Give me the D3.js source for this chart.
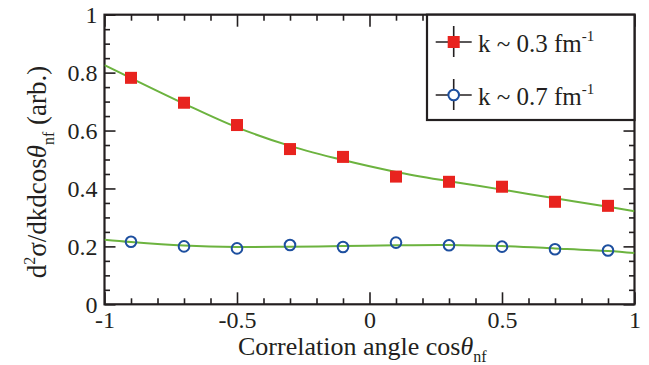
<!DOCTYPE html>
<html>
<head>
<meta charset="utf-8">
<script src="https://cdn.jsdelivr.net/npm/d3@7"></script>
<style>
  body { margin: 0; background: #fff; }
  svg { display: block; }
</style>
</head>
<body>
<svg id="chart" width="649" height="365"></svg>
<script>
// data
const angles = [-0.9, -0.7, -0.5, -0.3, -0.1, 0.1, 0.3, 0.5, 0.7, 0.9];
const k03 = [0.782, 0.696, 0.619, 0.536, 0.509, 0.441, 0.423, 0.406, 0.354, 0.340];
const k07 = [0.216, 0.200, 0.193, 0.205, 0.198, 0.213, 0.204, 0.199, 0.190, 0.186];

// fit curves
const fitAngles = [-1, -0.9, -0.7, -0.5, -0.3, -0.1, 0.1, 0.3, 0.5, 0.7, 0.9, 1];
const fit03 = [0.826, 0.781, 0.693, 0.611, 0.547, 0.498, 0.457, 0.425, 0.396, 0.366, 0.337, 0.321];
const fit07 = [0.223, 0.215, 0.203, 0.198, 0.199, 0.201, 0.204, 0.205, 0.201, 0.193, 0.184, 0.177];

const xTicks = [-1, -0.5, 0, 0.5, 1];
const xTickLabels = ["-1", "-0.5", "0", "0.5", "1"];
const yTicks = [0, 0.2, 0.4, 0.6, 0.8, 1];
const yTickLabels = ["0", "0.2", "0.4", "0.6", "0.8", "1"];
const xMinor = [-0.9, -0.8, -0.7, -0.6, -0.4, -0.3, -0.2, -0.1, 0.1, 0.2, 0.3, 0.4, 0.6, 0.7, 0.8, 0.9];
const yMinor = [0.05, 0.1, 0.15, 0.25, 0.3, 0.35, 0.45, 0.5, 0.55, 0.65, 0.7, 0.75, 0.85, 0.9, 0.95];

const legendLabels = ["k ~ 0.3 fm", "k ~ 0.7 fm"];

const ink = "#231f20",
  red = "#e8231e",
  blue = "#1d4f9f",
  green = "#6cb33f";
const serif = "'Liberation Serif', 'Times New Roman', Times, 'Nimbus Roman', 'Noto Serif', 'DejaVu Serif', FreeSerif, serif";

const svg = d3.select("#chart");

const x = d3.scaleLinear().domain([-1, 1]).range([104.5, 634.5]);
const y = d3.scaleLinear().domain([0, 1]).range([304.3, 14.7]);

// clip for curves
svg.append("clipPath").attr("id", "plot")
  .append("rect")
  .attr("x", x(-1)).attr("y", y(1))
  .attr("width", x(1) - x(-1)).attr("height", y(0) - y(1));

// axes with inward ticks on all four sides
function styleAxis(g) {
  g.attr("font-family", serif).attr("font-size", 24);
  g.select(".domain").remove();
  g.selectAll(".tick line").attr("stroke", ink).attr("stroke-width", 1.6);
  g.selectAll(".tick text").attr("fill", ink);
}

const xLabel = (d) => xTickLabels[xTicks.indexOf(d)];
const yLabel = (d) => yTickLabels[yTicks.indexOf(d)];

// bottom
svg.append("g").attr("transform", `translate(0,${y(0)})`)
  .call(d3.axisBottom(x).tickValues(xTicks).tickSize(-12).tickPadding(0).tickFormat(xLabel))
  .call(styleAxis)
  .call((g) => g.selectAll(".tick text").attr("y", 24).attr("dy", null));
svg.append("g").attr("transform", `translate(0,${y(0)})`)
  .call(d3.axisBottom(x).tickValues(xMinor).tickSize(-6).tickFormat(""))
  .call(styleAxis);
// top
svg.append("g").attr("transform", `translate(0,${y(1)})`)
  .call(d3.axisTop(x).tickValues(xTicks).tickSize(-12).tickFormat(""))
  .call(styleAxis);
svg.append("g").attr("transform", `translate(0,${y(1)})`)
  .call(d3.axisTop(x).tickValues(xMinor).tickSize(-6).tickFormat(""))
  .call(styleAxis);
// left
svg.append("g").attr("transform", `translate(${x(-1)},0)`)
  .call(d3.axisLeft(y).tickValues(yTicks).tickSize(-11).tickFormat(yLabel))
  .call(styleAxis)
  .call((g) => g.selectAll(".tick text").attr("x", -7).attr("dy", "0.33em"));
svg.append("g").attr("transform", `translate(${x(-1)},0)`)
  .call(d3.axisLeft(y).tickValues(yMinor).tickSize(-5.5).tickFormat(""))
  .call(styleAxis);
// right
svg.append("g").attr("transform", `translate(${x(1)},0)`)
  .call(d3.axisRight(y).tickValues(yTicks).tickSize(-11).tickFormat(""))
  .call(styleAxis);
svg.append("g").attr("transform", `translate(${x(1)},0)`)
  .call(d3.axisRight(y).tickValues(yMinor).tickSize(-5.5).tickFormat(""))
  .call(styleAxis);

// frame
svg.append("rect")
  .attr("x", x(-1)).attr("y", y(1))
  .attr("width", x(1) - x(-1)).attr("height", y(0) - y(1))
  .attr("fill", "none").attr("stroke", ink).attr("stroke-width", 2.2);

// fit lines
const line = d3.line()
  .x((d) => x(d[0]))
  .y((d) => y(d[1]))
  .curve(d3.curveCatmullRom.alpha(0.5));

[fit03, fit07].forEach((fit) => {
  svg.append("path")
    .datum(fitAngles.map((a, i) => [a, fit[i]]))
    .attr("clip-path", "url(#plot)")
    .attr("fill", "none")
    .attr("stroke", green)
    .attr("stroke-width", 2)
    .attr("d", line);
});

// k ~ 0.3 : filled squares
const sq = 12;
svg.append("g").selectAll("rect")
  .data(angles.map((a, i) => [a, k03[i]]))
  .join("rect")
  .attr("x", (d) => x(d[0]) - sq / 2)
  .attr("y", (d) => y(d[1]) - sq / 2)
  .attr("width", sq).attr("height", sq)
  .attr("fill", red);

// k ~ 0.7 : open circles
svg.append("g").selectAll("circle")
  .data(angles.map((a, i) => [a, k07[i]]))
  .join("circle")
  .attr("cx", (d) => x(d[0]))
  .attr("cy", (d) => y(d[1]))
  .attr("r", 5.3)
  .attr("fill", "none")
  .attr("stroke", blue)
  .attr("stroke-width", 2);

// legend
const legend = svg.append("g");
legend.append("rect")
  .attr("x", 427).attr("y", y(1))
  .attr("width", x(1) - 427).attr("height", 120 - y(1))
  .attr("fill", "#fff").attr("stroke", ink).attr("stroke-width", 2.2);

legendLabels.forEach((lab, i) => {
  const cy = 42 + i * 53, cx = 453.7;
  const row = legend.append("g");
  row.append("line").attr("x1", cx - 18).attr("x2", cx + 18).attr("y1", cy).attr("y2", cy)
    .attr("stroke", ink).attr("stroke-width", 1.6);
  row.append("line").attr("x1", cx).attr("x2", cx).attr("y1", cy - 16).attr("y2", cy + 15)
    .attr("stroke", ink).attr("stroke-width", 1.6);
  if (i === 0) {
    row.append("rect").attr("x", cx - sq / 2).attr("y", cy - sq / 2)
      .attr("width", sq).attr("height", sq).attr("fill", red);
  } else {
    row.append("circle").attr("cx", cx).attr("cy", cy).attr("r", 5.3)
      .attr("fill", "#fff").attr("stroke", blue).attr("stroke-width", 2);
  }
  const t = row.append("text").attr("x", 478).attr("y", cy + 10)
    .attr("fill", ink).attr("font-family", serif).attr("font-size", 25);
  t.append("tspan").text(lab);
  t.append("tspan").attr("dy", -11).attr("font-size", 15).text("-1");
});

// x title
const xt = svg.append("text")
  .attr("x", 238).attr("y", 355)
  .attr("fill", ink).attr("font-family", serif).attr("font-size", 26);
xt.append("tspan").text("Correlation angle cos");
xt.append("tspan").attr("font-style", "italic").text("θ");
xt.append("tspan").attr("dy", 7).attr("font-size", 16).text("nf");

// y title
const yt = svg.append("text")
  .attr("transform", "translate(46,172) rotate(-90)")
  .attr("text-anchor", "middle")
  .attr("fill", ink).attr("font-family", serif).attr("font-size", 27);
yt.append("tspan").text("d");
yt.append("tspan").attr("dy", -11).attr("font-size", 16).text("2");
yt.append("tspan").attr("dy", 11).text("σ/dkdcos");
yt.append("tspan").attr("font-style", "italic").text("θ");
yt.append("tspan").attr("dy", 8).attr("font-size", 16).text("nf");
yt.append("tspan").attr("dy", -8).text(" (arb.)");
</script>
</body>
</html>
